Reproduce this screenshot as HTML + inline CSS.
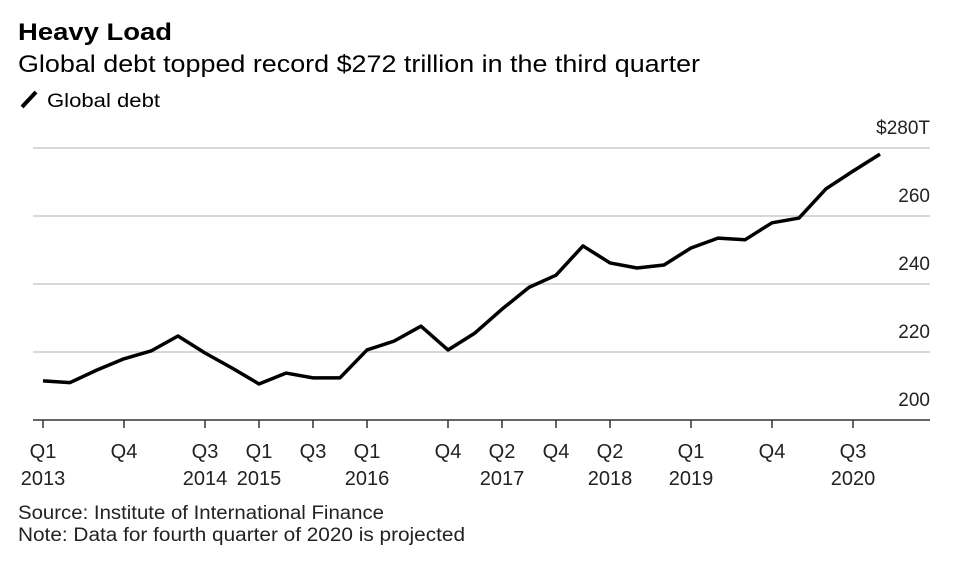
<!DOCTYPE html>
<html><head><meta charset="utf-8"><style>
body{margin:0;background:#fff;font-family:"Liberation Sans",sans-serif;}
svg text{font-family:"Liberation Sans",sans-serif;}
</style></head><body>
<svg width="965" height="575">
<text x="18" y="40" font-size="24" font-weight="bold" fill="#000" textLength="154" lengthAdjust="spacingAndGlyphs">Heavy Load</text>
<text x="18" y="72" font-size="24" fill="#000" textLength="682" lengthAdjust="spacingAndGlyphs">Global debt topped record $272 trillion in the third quarter</text>
<line x1="22" y1="107" x2="36" y2="92" stroke="#000" stroke-width="4"/>
<text x="47" y="107" font-size="19" fill="#000" textLength="113" lengthAdjust="spacingAndGlyphs">Global debt</text>
<g id="grid"></g><g id="xaxis"></g>
<path id="line" fill="none" stroke="#000" stroke-width="3.5" stroke-linejoin="round"/>
<text x="18" y="519" font-size="19" fill="#222" textLength="366" lengthAdjust="spacingAndGlyphs">Source: Institute of International Finance</text>
<text x="18" y="541" font-size="19" fill="#222" textLength="447" lengthAdjust="spacingAndGlyphs">Note: Data for fourth quarter of 2020 is projected</text>
</svg>
<script>
const values=[211.5,211,214.7,218,220.3,224.7,219.7,215.3,210.6,213.8,212.4,212.4,220.6,223.2,227.6,220.6,225.6,232.6,239,242.6,251.2,246.2,244.7,245.6,250.6,253.5,253,258,259.4,268,273.2,278.2];
const yTicks=[200,220,240,260,280];
const yTickLabels=["200","220","240","260","$280T"];
const xTickIdx=[0,3,6,8,10,12,15,17,19,21,24,27,30];
const xTickQ=["Q1","Q4","Q3","Q1","Q3","Q1","Q4","Q2","Q4","Q2","Q1","Q4","Q3"];
const xTickYear=["2013","","2014","2015","","2016","","2017","","2018","2019","","2020"];
const NS="http://www.w3.org/2000/svg";
const X=i=>43+i*27, Y=v=>420-(v-200)*3.4;
const grid=document.getElementById('grid'),xa=document.getElementById('xaxis');
function mk(tag,attrs,parent,txt){const e=document.createElementNS(NS,tag);for(const k in attrs)e.setAttribute(k,attrs[k]);if(txt!==undefined)e.textContent=txt;parent.appendChild(e);return e;}
yTicks.forEach((v,k)=>{
  if(v>200){const l=mk('line',{x1:33,x2:930,y1:Y(v),y2:Y(v),stroke:'#ccc','stroke-width':1.5},grid);
  
  }
  const t=mk('text',{x:930,y:Y(v)-14,'font-size':19,'text-anchor':'end',fill:'#222'},grid,yTickLabels[k]);
  
  
});
const ax=mk('line',{x1:33,x2:930,y1:420,y2:420,stroke:'#333','stroke-width':1.5},xa);


xTickIdx.forEach((i,k)=>{
  const tk=mk('line',{x1:X(i),x2:X(i),y1:420,y2:428,stroke:'#333','stroke-width':1.5},xa);
  
  
  const q=mk('text',{x:X(i),y:458,'font-size':20,'text-anchor':'middle',fill:'#222'},xa,xTickQ[k]);
  
  
  if(xTickYear[k]){const yr=mk('text',{x:X(i),y:485,'font-size':20,'text-anchor':'middle',fill:'#222'},xa,xTickYear[k]);
  
  }
});
document.getElementById('line').setAttribute('d',values.map((v,i)=>(i?'L':'M')+X(i)+','+Y(v)).join(''));
</script>
</body></html>
